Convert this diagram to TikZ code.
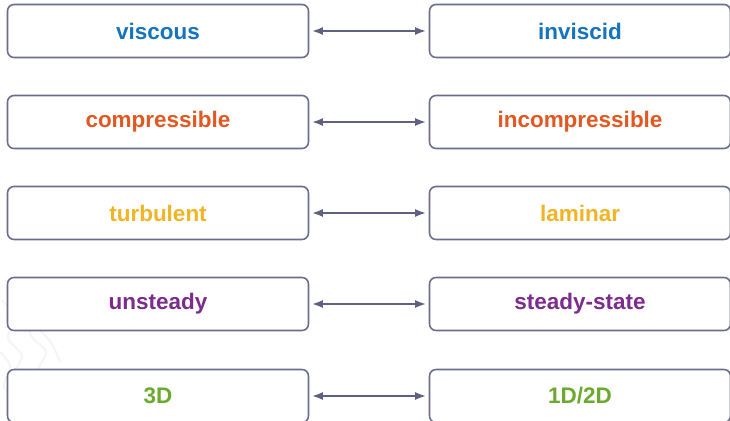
\documentclass[tikz,border=0pt]{standalone}
\usepackage{fontspec}
\setmainfont{Liberation Sans}
\usepackage{xcolor}
\usepackage{tikz}
\usetikzlibrary{arrows.meta}
\definecolor{flowblue}{RGB}{22,116,190}
\definecolor{floworange}{RGB}{225,88,34}
\definecolor{flowyellow}{RGB}{240,180,36}
\definecolor{flowpurple}{RGB}{124,44,140}
\definecolor{flowgreen}{RGB}{108,170,46}
\definecolor{boxedge}{RGB}{108,108,142}
\definecolor{linkgray}{RGB}{96,96,130}

\begin{document}
\begin{tikzpicture}[x=0.02cm, y=-0.02cm, >={Latex[length=0.22cm,width=0.16cm]},
    regime/.style={draw=boxedge, line width=0.9pt, rounded corners=0.13cm,
        fill=white, minimum width=6.02cm, minimum height=1.06cm,
        inner sep=0pt, font=\fontsize{12.8}{15}\selectfont\bfseries},
    link/.style={<->, linkgray, line width=1.1pt, shorten <=1.5pt, shorten >=1.5pt}]
    \useasboundingbox (0,0) rectangle (730,421);
    % faint background squiggles
    \draw[gray!8, line width=1.2pt] plot[smooth] coordinates {(2,300) (14,318) (8,338) (22,356) (12,378) (26,400) (18,421)};
    \draw[gray!8, line width=1.2pt] plot[smooth] coordinates {(24,296) (36,314) (30,334) (46,352) (38,372) (54,392) (48,412)};
    \draw[gray!8, line width=1.2pt] plot[smooth] coordinates {(0,352) (10,366) (4,386) (16,404) (8,421)};
    \draw[gray!8, line width=1.2pt] plot[smooth] coordinates {(40,330) (52,344) (60,362)};
    % left column
    \node[regime, text=flowblue]   (visc)   at (158,31)  {viscous};
    \node[regime, text=floworange] (comp)   at (158,122) {compressible};
    \node[regime, text=flowyellow] (turb)   at (158,213) {turbulent};
    \node[regime, text=flowpurple] (unst)   at (158,304) {unsteady};
    \node[regime, text=flowgreen]  (three)  at (158,396) {3D};
    % right column
    \node[regime, text=flowblue]   (invisc) at (580,31)  {inviscid};
    \node[regime, text=floworange] (incomp) at (580,122) {incompressible};
    \node[regime, text=flowyellow] (lam)    at (580,213) {laminar};
    \node[regime, text=flowpurple] (stead)  at (580,304) {steady-state};
    \node[regime, text=flowgreen]  (lowd)   at (580,396) {1D/2D};
    % pairs
    \draw[link] (visc) -- (invisc);
    \draw[link] (comp) -- (incomp);
    \draw[link] (turb) -- (lam);
    \draw[link] (unst) -- (stead);
    \draw[link] (three) -- (lowd);
\end{tikzpicture}
\end{document}
